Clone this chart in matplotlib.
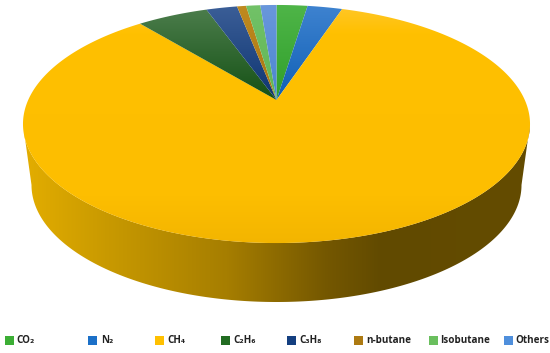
import numpy as np
import matplotlib
matplotlib.use("Agg")
import matplotlib.pyplot as plt
from matplotlib.colors import LinearSegmentedColormap as LSC
from matplotlib.patches import Polygon, Rectangle

labels = ["CO₂", "N₂", "CH₄", "C₂H₆", "C₃H₈", "n-butane", "Isobutane", "Others"]
values = [2.4, 2.7, 83.95, 5.5, 2.4, 0.7, 1.1, 1.25]
legend_colors = ["#3cae35", "#1b70c8", "#ffc000", "#226c22", "#143f80", "#ad7a12", "#6abf5e", "#4f8fdc"]
top_colors = ["#4fb548", "#3f83d0", "#ffc72a", "#4e7f4e", "#3c5f98", "#c08a20", "#72c268", "#6a97dc"]
apex_colors = ["#2f9f2a", "#0f5fb5", "#ffc000", "#145014", "#0d3470", "#a87610", "#5fb555", "#4a86d0"]
legend_square_x = [5, 88, 155, 221, 287, 354, 429, 504]
legend_text_x = [16.5, 101, 167, 233, 299, 366, 440, 515]

fig = plt.figure(figsize=(5.5, 3.53), dpi=100)
ax = fig.add_axes([0, 0, 1, 1])
ax.set_xlim(0, 550)
ax.set_ylim(353, 0)
ax.axis("off")

APEX_X, APEX_Y = 276.5, 100.0
P, C, D = 0.2017, 114.2, 248.3


def project(theta):
    """Disc angle (clockwise from top) to picture coordinates, in perspective."""
    u, v = np.sin(theta), np.cos(theta)
    w = 1 + P * v
    return APEX_X + D * u / w, APEX_Y - C * v / w


def ellipse(cx, cy, a, b, t):
    return cx + a * np.cos(t), cy + b * np.sin(t)


# side wall
t = np.linspace(0, np.pi, 300)
tx, ty = ellipse(276.5, 124, 253.5, 119, t)
bx, by = ellipse(276.5, 185, 245, 117, t)
side_xy = np.column_stack([np.r_[tx[::-1], bx], np.r_[ty[::-1], by]])
side_cmap = LSC.from_list("side", [(0, "#e3ad00"), (0.16, "#c99a00"), (0.4, "#a67e00"),
                                   (0.6, "#745700"), (0.71, "#614a00"), (1, "#644c00")])
im = ax.imshow(np.linspace(0, 1, 512)[None, :], extent=[24, 530, 320, 120], cmap=side_cmap,
               aspect="auto", interpolation="bilinear", zorder=1)
im.set_clip_path(Polygon(side_xy, transform=ax.transData))

# top face, clockwise from the top
edges = np.radians(np.r_[0, np.cumsum(values)] * 3.6)
for i in range(len(values)):
    th = np.linspace(edges[i], edges[i + 1], max(4, int(values[i] * 8)))
    x, y = project(th)
    poly = np.column_stack([np.r_[APEX_X, x], np.r_[APEX_Y, y]])
    if labels[i] == "CH₄":
        cmap = LSC.from_list("c", [(0, top_colors[i]), (0.12, apex_colors[i]), (0.8, "#fdbe00"), (1, "#f3b500")])
        ext = [0, 550, 244, 4]
    else:
        cmap = LSC.from_list("c", [top_colors[i], apex_colors[i]])
        ext = [0, 550, 101, 4]
    g = ax.imshow(np.linspace(0, 1, 256)[:, None], extent=ext, origin="upper",
                  cmap=cmap, aspect="auto", interpolation="bilinear", zorder=2)
    g.set_clip_path(Polygon(poly, transform=ax.transData))

ax.set_xlim(0, 550)
ax.set_ylim(353, 0)

# legend
for sx, tx_, lab, col in zip(legend_square_x, legend_text_x, labels, legend_colors):
    ax.add_patch(Rectangle((sx, 336), 8.5, 9, facecolor=col, edgecolor="none", zorder=3))
    ax.text(tx_, 340.5, lab, fontsize=7.1, fontweight="bold", family=["Open Sans", "DejaVu Sans"],
            color="#222222", va="center", ha="left", zorder=3)

fig.savefig("out.png", dpi=100)
